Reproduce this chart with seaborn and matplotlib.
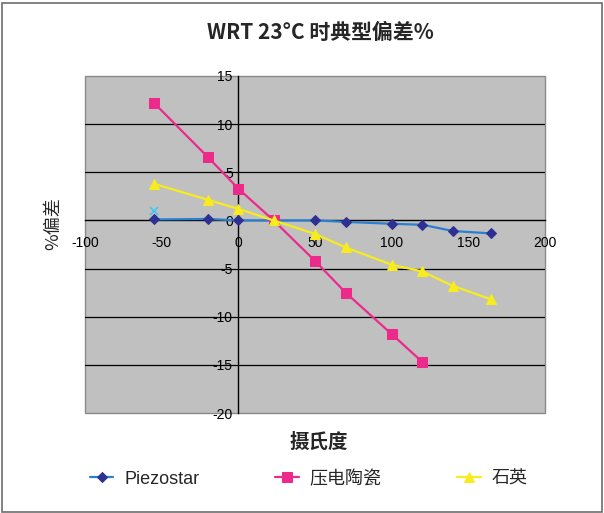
import matplotlib
matplotlib.use("Agg")
import matplotlib.pyplot as plt
from matplotlib.ticker import MultipleLocator
from matplotlib.patches import Rectangle
import seaborn as sns

# temperatures (deg C) and deviation (%)
temp_piezo = [-55, -20, 0, 23, 50, 70, 100, 120, 140, 165]
dev_piezo = [0.1, 0.15, 0.0, 0.0, 0.0, -0.15, -0.35, -0.45, -1.1, -1.35]

temp_ceramic = [-55, -20, 0, 23, 50, 70, 100, 120]
dev_ceramic = [12.2, 6.6, 3.3, 0.0, -4.2, -7.5, -11.8, -14.7]

temp_quartz = [-55, -20, 0, 23, 50, 70, 100, 120, 140, 165]
dev_quartz = [3.8, 2.15, 1.2, 0.0, -1.4, -2.8, -4.6, -5.3, -6.8, -8.2]

temp_extra = [-55]
dev_extra = [0.95]

labels = ["Piezostar", "压电陶瓷", "石英"]
title = "WRT 23°C 时典型偏差%"
x_label = "摄氏度"
y_label = "%偏差"
grid_levels = [10, 5, -5, -10, -15]

sns.set_theme(style="white")
plt.rcParams["font.family"] = ["Liberation Sans", "Noto Sans CJK SC", "DejaVu Sans"]
plt.rcParams["axes.unicode_minus"] = False

fig = plt.figure(figsize=(6.04, 5.13), dpi=100)
fig.patches.append(Rectangle((0.004, 0.002), 0.992, 0.992, transform=fig.transFigure,
                             fill=False, edgecolor="#6d6d6d", lw=1.2))
ax = fig.add_axes([0.1407, 0.1949, 0.7616, 0.657])
ax.set_facecolor("#c0c0c0")

for g in grid_levels:
    ax.axhline(g, color="black", lw=0.9, zorder=1)

sns.lineplot(x=temp_piezo, y=dev_piezo, ax=ax, color="#2b7fd0", lw=1.6,
             marker="D", markersize=5, markerfacecolor="#2e3192",
             markeredgecolor="#2e3192", label=labels[0], zorder=3)
sns.lineplot(x=temp_ceramic, y=dev_ceramic, ax=ax, color="#ec2a8c", lw=1.6,
             marker="s", markersize=7, markerfacecolor="#ec2a8c",
             markeredgecolor="#ec2a8c", label=labels[1], zorder=4)
sns.lineplot(x=temp_quartz, y=dev_quartz, ax=ax, color="#f8ec1c", lw=1.6,
             marker="^", markersize=7, markerfacecolor="#f8ec1c",
             markeredgecolor="#f8ec1c", label=labels[2], zorder=5)
ax.plot(temp_extra, dev_extra, linestyle="none", marker="x", markersize=6,
        color="#3fc6f0", mew=1.2, zorder=3)

ax.xaxis.set_major_locator(MultipleLocator(50))
ax.xaxis.set_minor_locator(MultipleLocator(10))
ax.yaxis.set_major_locator(MultipleLocator(5))
ax.yaxis.set_minor_locator(MultipleLocator(1))
ax.set_xlim(-100, 200)
ax.set_ylim(-20, 15)

ax.spines["left"].set_position(("data", 0))
ax.spines["bottom"].set_position(("data", 0))
for s in ["left", "bottom"]:
    ax.spines[s].set_color("black")
    ax.spines[s].set_linewidth(1.0)
    ax.spines[s].set_zorder(2)
ax.spines["top"].set_visible(False)
ax.spines["right"].set_visible(False)
ax.add_patch(Rectangle((0, 0), 1, 1, transform=ax.transAxes, fill=False,
                       edgecolor="#8a8a8a", lw=1.0, zorder=0.5, clip_on=False))

ax.tick_params(axis="both", which="major", direction="in", length=5, width=1,
               colors="black", labelsize=10)
ax.tick_params(axis="both", which="minor", direction="in", length=3.5, width=0.9,
               colors="black")
ax.tick_params(axis="x", which="major", pad=11)
ax.tick_params(axis="y", which="major", pad=4)

ax.set_xlabel("")
ax.set_ylabel("")
fig.text(0.53, 0.937, title, ha="center", va="center", fontsize=15,
         fontweight="bold", family=["Noto Sans CJK SC", "DejaVu Sans"])
fig.text(0.527, 0.138, x_label, ha="center", va="center", fontsize=14,
         fontweight="bold", family=["Noto Sans CJK SC", "DejaVu Sans"])
fig.text(0.088, 0.565, y_label, ha="center", va="center", fontsize=13,
         rotation=90, family=["Noto Sans CJK SC", "DejaVu Sans"])

ax.legend_.remove()
handles, _ = ax.get_legend_handles_labels()
fig.legend(handles[:3], labels, loc="center left", bbox_to_anchor=(0.122, 0.066),
           ncol=3, frameon=False, handlelength=1.3, columnspacing=4.2,
           handletextpad=0.6,
           prop={"family": ["Liberation Sans", "Noto Sans CJK SC"], "size": 13})

fig.savefig("out.png", dpi=100)
